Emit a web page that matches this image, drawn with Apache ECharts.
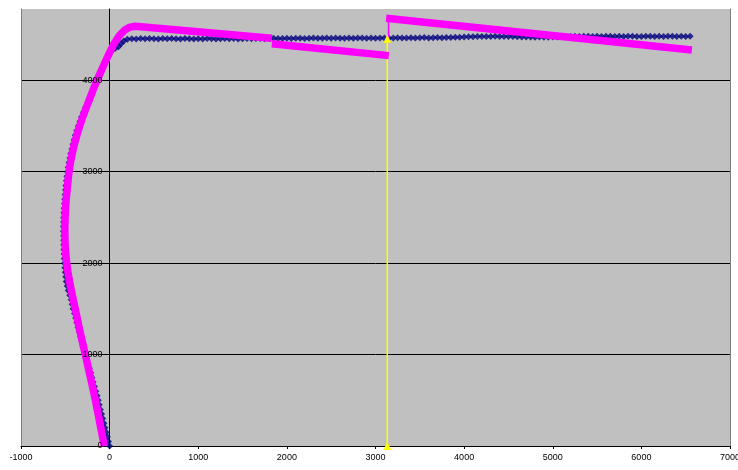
<!DOCTYPE html>
<html>
<head>
<meta charset="utf-8">
<script src="https://cdn.jsdelivr.net/npm/echarts@6/dist/echarts.min.js"></script>
<style>
  html, body { margin: 0; padding: 0; background: #ffffff; }
  #chart { width: 738px; height: 470px; }
</style>
</head>
<body>
<div id="chart"></div>
<script>
// Axis tick values
const xTickValues = [-1000, 0, 1000, 2000, 3000, 4000, 5000, 6000, 7000];
const yTickValues = [0, 1000, 2000, 3000, 4000];
const yAxisTop = 4780;

// Measured points (navy diamonds): the rising curve
const measuredCurve = [
  [0, 0], [-13, 50], [-26, 100], [-39, 150], [-52, 200], [-65, 250], [-78, 300], [-91, 350], [-104, 400], [-117, 450],
  [-128, 500], [-141, 550], [-156, 600], [-171, 650], [-187, 700], [-200, 750], [-213, 800], [-229, 850], [-244, 900], [-259, 950],
  [-274, 1000], [-287, 1050], [-302, 1100], [-316, 1150], [-331, 1200], [-343, 1250], [-357, 1300], [-370, 1350], [-382, 1400], [-396, 1450],
  [-413, 1500], [-423, 1550], [-434, 1600], [-450, 1650], [-467, 1700], [-479, 1750], [-490, 1800], [-495, 1850], [-500, 1900], [-505, 1950],
  [-510, 2000], [-512, 2050], [-514, 2100], [-516, 2150], [-518, 2200], [-519, 2250], [-520, 2300], [-521, 2350], [-521, 2400], [-520, 2450],
  [-518, 2500], [-516, 2550], [-513, 2600], [-510, 2650], [-506, 2700], [-502, 2750], [-498, 2800], [-493, 2850], [-488, 2900], [-482, 2950],
  [-476, 3000], [-467, 3050], [-458, 3100], [-448, 3150], [-438, 3200], [-426, 3250], [-414, 3300], [-401, 3350], [-388, 3400], [-371, 3450],
  [-354, 3500], [-336, 3550], [-318, 3600], [-296, 3650], [-274, 3700], [-252, 3750], [-230, 3800], [-208, 3850], [-187, 3900], [-165, 3950],
  [-144, 4000], [-125, 4050], [-104, 4100], [-80, 4150], [-54, 4200], [-24, 4250], [0, 4300], [30, 4330], [65, 4350], [100, 4368],
  [130, 4400], [160, 4430], [200, 4448]
];

// Measured points (navy diamonds): the plateau
const measuredPlateau = [
  [250, 4455], [300, 4453], [350, 4456], [400, 4454], [450, 4457], [500, 4455], [550, 4453], [600, 4456], [650, 4454], [700, 4457],
  [750, 4455], [800, 4453], [850, 4456], [900, 4454], [950, 4452], [1000, 4455], [1050, 4453], [1100, 4456], [1150, 4454], [1200, 4452],
  [1250, 4455], [1300, 4457], [1350, 4454], [1400, 4456], [1450, 4453], [1500, 4455], [1550, 4457], [1600, 4454], [1650, 4456], [1700, 4458],
  [1750, 4455], [1800, 4457], [1850, 4459], [1900, 4456], [1950, 4458], [2000, 4460], [2050, 4457], [2100, 4459], [2150, 4461], [2200, 4458],
  [2250, 4460], [2300, 4462], [2350, 4459], [2400, 4461], [2450, 4463], [2500, 4460], [2550, 4462], [2600, 4459], [2650, 4461], [2700, 4463],
  [2750, 4460], [2800, 4462], [2850, 4464], [2900, 4461], [2950, 4463], [3000, 4460], [3050, 4462], [3100, 4464], [3150, 4461], [3200, 4463],
  [3250, 4465], [3300, 4462], [3350, 4464], [3400, 4466], [3450, 4463], [3500, 4465], [3550, 4467], [3600, 4464], [3650, 4466], [3700, 4468],
  [3750, 4465], [3800, 4467], [3850, 4469], [3900, 4470], [3950, 4472], [4000, 4474], [4050, 4476], [4100, 4477], [4150, 4479], [4200, 4478],
  [4250, 4480], [4300, 4479], [4350, 4481], [4400, 4480], [4450, 4478], [4500, 4480], [4550, 4479], [4600, 4477], [4650, 4475], [4700, 4473],
  [4750, 4474], [4800, 4472], [4850, 4473], [4900, 4471], [4950, 4472], [5000, 4474], [5050, 4473], [5100, 4475], [5150, 4477], [5200, 4479],
  [5250, 4481], [5300, 4480], [5350, 4482], [5400, 4481], [5450, 4479], [5500, 4481], [5550, 4480], [5600, 4482], [5650, 4481], [5700, 4479],
  [5750, 4481], [5800, 4480], [5850, 4482], [5900, 4481], [5950, 4479], [6000, 4480], [6050, 4482], [6100, 4481], [6150, 4479], [6200, 4481],
  [6250, 4480], [6300, 4482], [6350, 4481], [6400, 4479], [6450, 4481], [6500, 4480], [6550, 4482]
];

// Model (magenta): loading branch up to the peak and first softening
const modelRise = [
  [-60, 0], [-80, 100], [-100, 200], [-120, 300], [-140, 400], [-160, 500], [-182, 600], [-205, 700], [-228, 800], [-251, 900],
  [-274, 1000], [-298, 1100], [-322, 1200], [-345, 1300], [-366, 1400], [-388, 1500], [-410, 1600], [-432, 1700], [-452, 1800], [-470, 1900],
  [-484, 2000], [-495, 2100], [-502, 2200], [-505, 2300], [-505, 2400], [-502, 2500], [-497, 2600], [-490, 2700], [-480, 2800], [-470, 2900],
  [-458, 3000], [-442, 3100], [-422, 3200], [-398, 3300], [-370, 3400], [-338, 3500], [-302, 3600], [-264, 3700], [-224, 3800], [-184, 3900],
  [-142, 4000], [-97, 4100], [-50, 4200], [-2, 4300], [50, 4400], [110, 4490], [170, 4550], [230, 4582], [290, 4592], [1830, 4460]
];
// Model (magenta): second softening segment
const modelStepDown = [[1830, 4400], [3150, 4270]];
// Model (magenta): segment after the reset
const modelReset = [[3120, 4678], [6570, 4331]];
// Model (magenta): thin connector at the reset
const modelConnector = [[3147, 4455], [3147, 4678]];

// Reference marker line (yellow)
const markerLine = [[3133, 0], [3133, 4455]];

const FONT = "'Liberation Sans', Arial, sans-serif";
const MAGENTA = '#ff00ff';
const plainNumber = (v) => String(v);

const chart = echarts.init(document.getElementById('chart'), null, { renderer: 'canvas' });

const yScale = {
  type: 'value',
  min: yTickValues[0],
  max: yAxisTop,
  interval: yTickValues[1] - yTickValues[0]
};

// Plain grey border axis on the left or right of the plot area
const frameAxis = (position) => Object.assign({}, yScale, {
  position: position,
  axisLine: { show: true, onZero: false, lineStyle: { color: '#808080', width: 1 } },
  axisTick: { show: false },
  axisLabel: { show: false },
  splitLine: { show: false }
});

chart.setOption({
  animation: false,
  backgroundColor: '#ffffff',
  grid: {
    left: 21, right: 8, top: 9, bottom: 24,
    outerBoundsMode: 'none',
    containLabel: false,
    show: true,
    backgroundColor: '#c0c0c0',
    borderWidth: 0
  },
  xAxis: {
    type: 'value',
    min: xTickValues[0],
    max: xTickValues[xTickValues.length - 1],
    interval: xTickValues[1] - xTickValues[0],
    axisLine: { show: true, onZero: true, lineStyle: { color: '#000000', width: 1 } },
    axisTick: { show: true, length: 3, lineStyle: { color: '#000000' } },
    axisLabel: { show: true, color: '#000000', fontFamily: FONT, fontSize: 9, margin: 7, formatter: plainNumber, hideOverlap: false },
    splitLine: { show: false }
  },
  yAxis: [
    // value axis: line and gridlines
    Object.assign({}, yScale, {
      position: 'left',
      offset: 0,
      axisLine: { show: true, onZero: false, lineStyle: { color: '#000000', width: 1 } },
      axisTick: { show: false },
      axisLabel: { show: false },
      splitLine: { show: true, showMaxLine: false, lineStyle: { color: '#000000', width: 1 } }
    }),
    frameAxis('left'),
    frameAxis('right'),
    // value axis labels, kept above the series
    Object.assign({}, yScale, {
      position: 'left',
      offset: 0,
      z: 20,
      axisLine: { show: false, onZero: false },
      axisTick: { show: false },
      axisLabel: { show: true, color: '#000000', fontFamily: FONT, fontSize: 9, margin: 7, showMaxLabel: false, formatter: plainNumber, hideOverlap: false },
      splitLine: { show: false }
    })
  ],
  series: [
    {
      type: 'scatter',
      data: measuredCurve.concat(measuredPlateau),
      symbol: 'diamond',
      symbolSize: 7,
      itemStyle: { color: '#000080' },
      silent: true
    },
    {
      type: 'line',
      data: markerLine,
      symbol: 'triangle',
      symbolSize: 8,
      clip: false,
      lineStyle: { color: '#ffff00', width: 1.5 },
      itemStyle: { color: '#ffff00' }
    },
    {
      type: 'line',
      data: modelConnector,
      showSymbol: false,
      lineStyle: { color: MAGENTA, width: 1.5 }
    },
    {
      type: 'line',
      data: modelRise,
      showSymbol: false,
      lineStyle: { color: MAGENTA, width: 7.5, join: 'round' }
    },
    {
      type: 'line',
      data: modelStepDown,
      showSymbol: false,
      lineStyle: { color: MAGENTA, width: 7.5 }
    },
    {
      type: 'line',
      data: modelReset,
      showSymbol: false,
      lineStyle: { color: MAGENTA, width: 7.5 }
    }
  ]
});

// Move the value axis (line and labels) across to x = 0
const leftEdgePx = chart.convertToPixel({ xAxisIndex: 0 }, xTickValues[0]);
const zeroPx = chart.convertToPixel({ xAxisIndex: 0 }, 0);
const shift = -(zeroPx - leftEdgePx);
chart.setOption({ yAxis: [{ offset: shift }, {}, {}, { offset: shift }] });
</script>
</body>
</html>
